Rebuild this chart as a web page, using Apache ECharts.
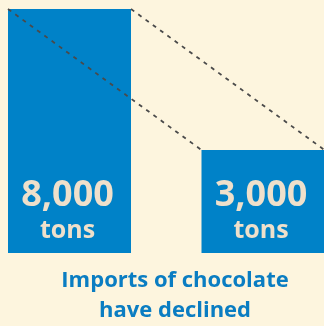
<!DOCTYPE html>
<html><head><meta charset="utf-8">
<script src="https://cdn.jsdelivr.net/npm/echarts@6/dist/echarts.min.js"></script>
<style>html,body{margin:0;padding:0;background:#fdf5de}#c{width:324px;height:326px}</style>
</head><body><div id="c"></div>
<script>
const categories = ['Before', 'After'];
const values = [8000, 3000];
const unitLabel = 'tons';
const titleLines = ['Imports of chocolate', 'have declined'];
const yMin = -650, yMax = 8000;

const chart = echarts.init(document.getElementById('c'), null, {renderer: 'canvas'});
const BAR_W = 123;
const FONT = '"Open Sans", sans-serif';
chart.setOption({
  backgroundColor: '#fdf5de',
  animation: false,
  title: {
    text: titleLines.join('\n'), left: 170, top: 261, textAlign: 'center',
    textStyle: {color: '#0a7dc2', fontSize: 22, fontWeight: 'bold', fontFamily: FONT, lineHeight: 30}
  },
  grid: {left: -27.25, right: -35.75, top: 9, bottom: 73, outerBoundsMode: 'none', containLabel: false},
  xAxis: {type: 'category', data: categories, show: false},
  yAxis: {type: 'value', min: yMin, max: yMax, show: false},
  series: [{
    type: 'custom',
    data: values.map((v, i) => [i, v]),
    renderItem(params, api) {
      const i = api.value(0), v = api.value(1);
      const top = api.coord([i, v]);
      const base = api.coord([i, yMin]);
      const x0 = top[0] - BAR_W / 2;
      const children = [
        {type: 'rect', shape: {x: x0, y: top[1], width: BAR_W, height: base[1] - top[1]}, style: {fill: '#0082c8'}},
        {type: 'text', style: {text: v.toLocaleString('en-US'), x: top[0] - 2, y: base[1] - 57, align: 'center', verticalAlign: 'middle', fill: '#efe0cb', font: 'bold 36px ' + FONT}},
        {type: 'text', style: {text: unitLabel, x: top[0] - 2, y: base[1] - 22, align: 'center', verticalAlign: 'middle', fill: '#efe0cb', font: 'bold 25px ' + FONT}}
      ];
      if (i > 0) {
        const pt = api.coord([i - 1, values[i - 1]]);
        const px0 = pt[0] - BAR_W / 2;
        const ls = {stroke: '#4a4a4a', lineWidth: 1.8, lineDash: [4, 5]};
        children.push({type: 'line', shape: {x1: px0, y1: pt[1], x2: x0, y2: top[1]}, style: ls, z2: 10});
        children.push({type: 'line', shape: {x1: px0 + BAR_W, y1: pt[1], x2: x0 + BAR_W, y2: top[1]}, style: ls, z2: 10});
      }
      return {type: 'group', children};
    },
    z: 2
  }]
});
</script></body></html>
